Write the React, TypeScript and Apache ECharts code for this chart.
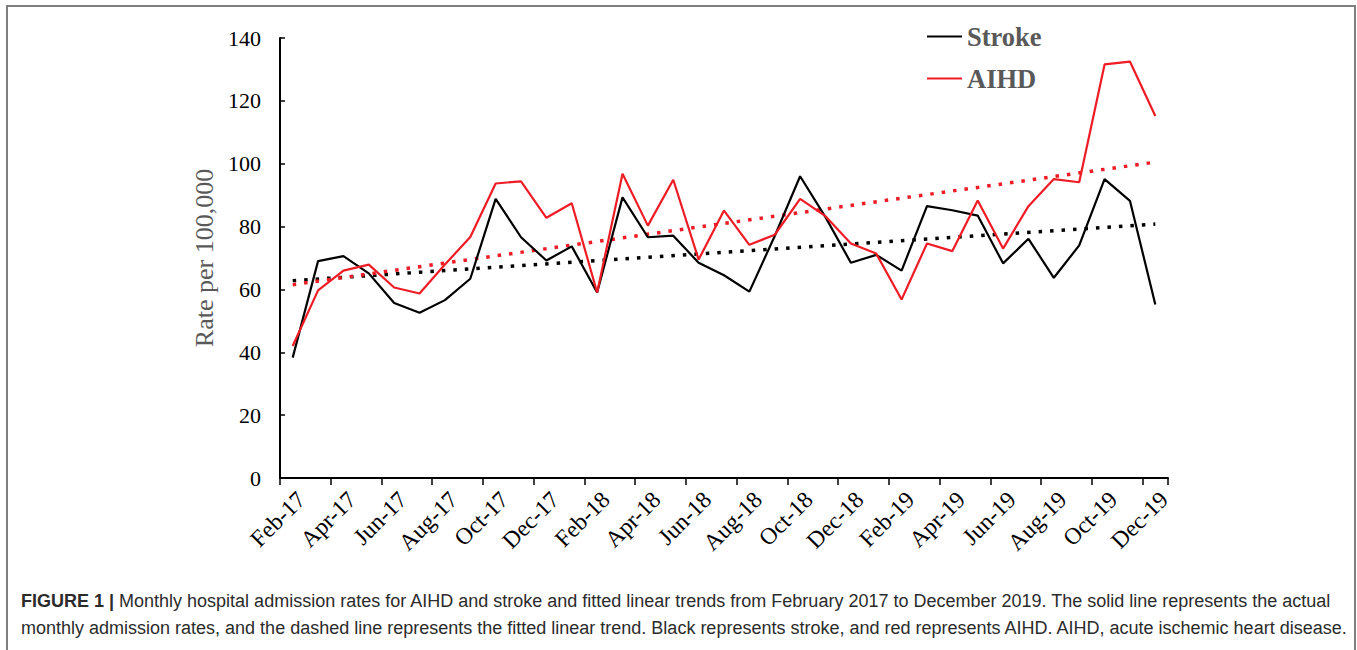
import React, { useEffect, useRef } from "react";
import * as echarts from "echarts";

const months = [
  "Feb-17", "Mar-17", "Apr-17", "May-17", "Jun-17", "Jul-17", "Aug-17", "Sep-17", "Oct-17", "Nov-17", "Dec-17",
  "Jan-18", "Feb-18", "Mar-18", "Apr-18", "May-18", "Jun-18", "Jul-18", "Aug-18", "Sep-18", "Oct-18", "Nov-18", "Dec-18",
  "Jan-19", "Feb-19", "Mar-19", "Apr-19", "May-19", "Jun-19", "Jul-19", "Aug-19", "Sep-19", "Oct-19", "Nov-19", "Dec-19",
];

const strokeRates = [
  38.3, 69.0, 70.6, 65.1, 55.7, 52.6, 56.6, 63.4, 88.8, 76.6, 69.2,
  73.7, 59.0, 89.3, 76.6, 77.1, 68.5, 64.5, 59.3, 77.0, 96.0, 83.0, 68.5,
  71.0, 66.0, 86.5, 85.2, 83.5, 68.3, 76.1, 63.7, 74.0, 95.1, 88.2, 55.2,
];

const aihdRates = [
  42.0, 59.7, 66.0, 67.9, 60.6, 58.7, 67.9, 76.7, 93.7, 94.4, 82.8,
  87.4, 59.0, 96.8, 80.3, 94.9, 69.5, 85.1, 74.2, 77.4, 88.8, 83.3, 74.6,
  71.4, 56.8, 74.6, 72.2, 88.3, 73.0, 86.5, 95.1, 94.1, 131.6, 132.5, 115.2,
];

// fitted linear trends: [start month, value], [end month, value]
const strokeTrend: [string, number][] = [["Feb-17", 62.8], ["Dec-19", 80.8]];
const aihdTrend: [string, number][] = [["Feb-17", 61.5], ["Dec-19", 100.5]];

const yTicks = { min: 0, max: 140, interval: 20 };

const captionBold = "FIGURE 1 |";
const captionLine1 =
  " Monthly hospital admission rates for AIHD and stroke and fitted linear trends from February 2017 to December 2019. The solid line represents the actual";
const captionLine2 =
  "monthly admission rates, and the dashed line represents the fitted linear trend. Black represents stroke, and red represents AIHD. AIHD, acute ischemic heart disease.";

const RED = "#ee1c25";
const SERIF = "'Liberation Serif', 'Times New Roman', serif";
const SANS = "'Liberation Sans', Arial, sans-serif";

export default function App() {
  const ref = useRef<HTMLDivElement>(null);

  useEffect(() => {
    document.body.style.margin = "0";
    const chart = echarts.init(ref.current!, null, { renderer: "svg" });
    chart.setOption({
      animation: false,
      backgroundColor: "#ffffff",
      grid: { left: 280, right: 189, top: 38, bottom: 172 },
      legend: {
        data: ["Stroke", "AIHD"],
        orient: "vertical",
        left: 922,
        top: 18,
        itemWidth: 35,
        itemHeight: 2,
        itemGap: 15,
        icon: "rect",
        textStyle: { fontFamily: SERIF, fontWeight: "bold", fontSize: 26.5, color: "#595959" },
        selectedMode: false,
      },
      xAxis: {
        type: "category",
        data: months,
        boundaryGap: true,
        axisLine: { lineStyle: { color: "#000", width: 2 } },
        axisTick: { show: true, interval: 1, length: 7, inside: false, lineStyle: { color: "#000", width: 1.5 } },
        axisLabel: {
          interval: 1,
          rotate: 45,
          margin: 9,
          verticalAlign: "top",
          fontFamily: SERIF,
          fontSize: 23.5,
          color: "#000",
        },
        splitLine: { show: false },
      },
      yAxis: {
        type: "value",
        min: yTicks.min,
        max: yTicks.max,
        interval: yTicks.interval,
        name: "Rate per 100,000",
        nameLocation: "middle",
        nameGap: 58,
        nameTextStyle: { fontFamily: SERIF, fontSize: 26, color: "#595959" },
        axisLine: { show: true, lineStyle: { color: "#000", width: 2 } },
        axisTick: { show: true, inside: true, length: 5, lineStyle: { color: "#000", width: 1.5 } },
        axisLabel: { margin: 19, fontFamily: SERIF, fontSize: 22, color: "#000" },
        splitLine: { show: false },
      },
      series: [
        {
          name: "Stroke",
          type: "line",
          data: strokeRates,
          showSymbol: false,
          symbol: "none",
          color: "#000",
          lineStyle: { color: "#000", width: 2.2 },
          silent: true,
          z: 3,
        },
        {
          name: "AIHD",
          type: "line",
          data: aihdRates,
          showSymbol: false,
          symbol: "none",
          color: RED,
          lineStyle: { color: RED, width: 2.2 },
          silent: true,
          z: 3,
        },
        {
          name: "Stroke trend",
          type: "line",
          data: strokeTrend,
          showSymbol: false,
          symbol: "none",
          color: "#000",
          lineStyle: { color: "#000", width: 3.5, type: [3.5, 8], cap: "butt" },
          silent: true,
          z: 2,
        },
        {
          name: "AIHD trend",
          type: "line",
          data: aihdTrend,
          showSymbol: false,
          symbol: "none",
          color: RED,
          lineStyle: { color: RED, width: 3.5, type: [3.5, 8], cap: "butt" },
          silent: true,
          z: 2,
        },
      ],
      graphic: [
        {
          type: "rect",
          shape: { x: 7, y: 6, width: 1348, height: 700 },
          style: { fill: "none", stroke: "#7f7f7f", lineWidth: 2 },
          silent: true,
        },
        {
          type: "text",
          x: 21,
          y: 587,
          style: {
            text: "{b|" + captionBold + "}" + captionLine1 + "\n" + captionLine2,
            fontFamily: SANS,
            fontSize: 18,
            lineHeight: 27,
            fill: "#2b2b2b",
            rich: {
              b: { fontFamily: SANS, fontSize: 18, fontWeight: "bold", lineHeight: 27, fill: "#2b2b2b" },
            },
          },
          silent: true,
        },
      ],
    });
    return () => chart.dispose();
  }, []);

  return <div ref={ref} style={{ position: "absolute", left: 0, top: 0, width: 1357, height: 650 }} />;
}
